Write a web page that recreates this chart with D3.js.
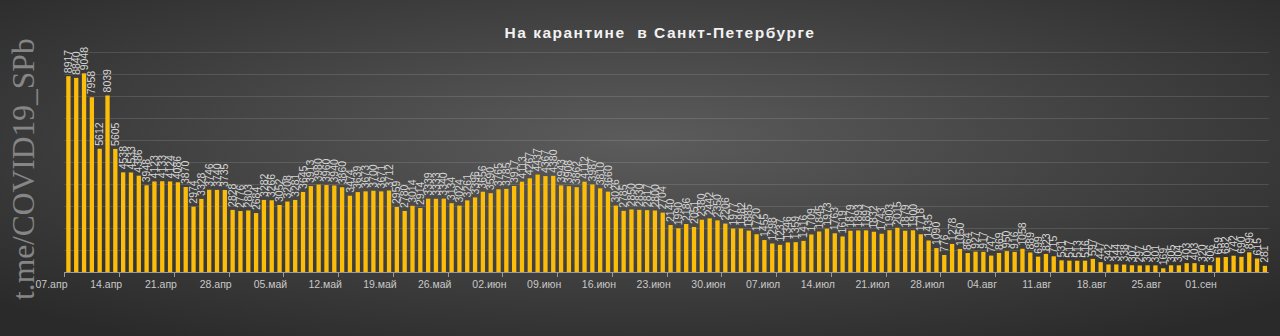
<!DOCTYPE html>
<html><head><meta charset="utf-8">
<script src="https://cdn.jsdelivr.net/npm/d3@7"></script>
<style>html,body{margin:0;padding:0;background:#333;}svg{display:block;}</style>
</head><body>
<svg id="c" width="1280" height="336"></svg>
<script>
const dayCount = 154;
const values = [
8917,8840,9048,7958,5612,8039,5605,4538,4533,4386,3948,4123,4133,4124,4086,3870,2974,3328,3746,3740,
3735,2828,2776,2803,2684,3282,3266,3052,3208,3281,3645,3913,3980,3960,3940,3860,3474,3639,3673,3700,
3671,3712,2959,2780,3014,2914,3339,3333,3340,3134,3024,3261,3396,3656,3590,3765,3785,3917,4113,4267,
4437,4367,4380,3943,3908,3862,4112,3987,3810,3660,3026,2785,2850,2830,2817,2800,2704,2140,1990,2186,
2051,2380,2442,2350,2206,1977,1982,1885,1720,1455,1298,1237,1346,1359,1416,1709,1845,1973,1763,1619,
1879,1893,1897,1832,1743,1903,2015,1879,1900,1718,1435,1090,776,1278,1050,864,927,917,747,869,
950,916,1058,889,699,823,715,531,517,513,516,597,447,342,344,338,307,297,305,301,
169,305,304,403,403,320,306,659,682,742,690,896,615,281];
const tickLabels = ["07.апр","14.апр","21.апр","28.апр","05.май","12.май","19.май","26.май","02.июн","09.июн","16.июн","23.июн","30.июн","07.июл","14.июл","21.июл","28.июл","04.авг","11.авг","18.авг","25.авг","01.сен"];
const yTicks = [0,1000,2000,3000,4000,5000,6000,7000,8000,9000,10000];
const title = "На карантине  в Санкт-Петербурге";
const watermark = "t.me/COVID19_SPb";

const W = 1280, H = 336;
const svg = d3.select("#c");
const defs = svg.append("defs");
const rg = defs.append("radialGradient").attr("id","bg").attr("cx","50%").attr("cy","42%").attr("r","70%");
rg.append("stop").attr("offset","0%").attr("stop-color","#5c5c5c");
rg.append("stop").attr("offset","100%").attr("stop-color","#2a2a2a");
svg.append("rect").attr("width",W).attr("height",H).attr("fill","url(#bg)");

const days = d3.range(dayCount);
const x = d3.scaleBand().domain(days).range([64.5, 1268.8]).paddingInner(0.45).paddingOuter(0.225);
const y = d3.scaleLinear().domain([0,10000]).range([272, 52.4]);

// gridlines
svg.append("g").selectAll("line").data(yTicks.slice(1)).join("line")
  .attr("x1",64.5).attr("x2",1268.8)
  .attr("y1",d=>Math.round(y(d))+0.5).attr("y2",d=>Math.round(y(d))+0.5)
  .attr("stroke","#ffffff").attr("stroke-opacity",0.12).attr("stroke-width",1);

// bars
svg.append("g").selectAll("rect").data(values).join("rect")
  .attr("x",(d,i)=>x(i)).attr("width",x.bandwidth())
  .attr("y",d=>y(d)).attr("height",d=>y(0)-y(d))
  .attr("fill","#fcbc0a");

// value labels
svg.append("g").selectAll("text").data(values).join("text")
  .attr("transform",(d,i)=>`translate(${x(i)+x.bandwidth()/2+3.6},${y(d)-3}) rotate(-90)`)
  .attr("font-family","Liberation Sans, Arial, sans-serif").attr("font-size",10.5)
  .attr("fill","#d6d6d6").text(d=>d);

// x axis
const edge = i => x(i) - x.step()*0.225;
const tickIdx = tickLabels.map((t,k)=>k*7);
const ax = svg.append("g");
ax.append("line").attr("x1",64.5).attr("x2",1268.8).attr("y1",272.5).attr("y2",272.5).attr("stroke","#9a9a9a");
ax.selectAll("line.t").data(tickIdx).join("line").attr("class","t")
  .attr("x1",i=>Math.round(edge(i))+0.5).attr("x2",i=>Math.round(edge(i))+0.5)
  .attr("y1",272).attr("y2",277).attr("stroke","#9a9a9a");
ax.selectAll("text").data(tickLabels).join("text")
  .attr("x",(t,k)=>edge(tickIdx[k])-13).attr("y",288)
  .attr("text-anchor","middle").attr("font-family","Liberation Sans, Arial, sans-serif")
  .attr("font-size",10.5).attr("fill","#c8c8c8").text(t=>t);

// title
svg.append("text").attr("x",660).attr("y",38).attr("text-anchor","middle")
  .style("white-space","pre")
  .attr("font-family","Liberation Sans, Arial, sans-serif").attr("font-weight","bold")
  .attr("font-size",15.5).attr("letter-spacing",1.5).attr("fill","#f2f2f2").text(title);

// watermark
svg.append("text").attr("transform","translate(34,300) rotate(-90)")
  .attr("font-family","Liberation Serif, Times New Roman, serif").attr("font-size",31.5)
  .attr("fill","#868686").text(watermark);
</script>
</body></html>
